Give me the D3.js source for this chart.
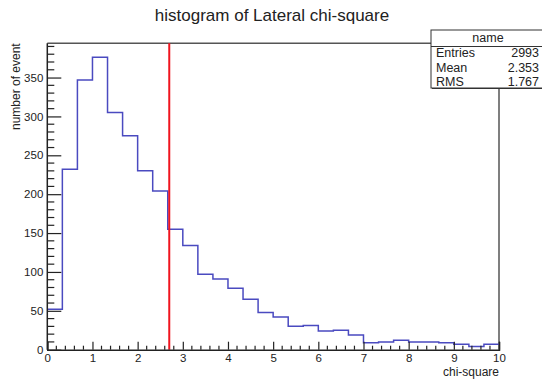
<!DOCTYPE html>
<html>
<head>
<meta charset="utf-8">
<script src="https://cdn.jsdelivr.net/npm/d3@7"></script>
<style>
  html, body { margin: 0; padding: 0; background: #fff; }
  svg { display: block; font-family: "Liberation Sans", Arial, Helvetica, sans-serif; }
</style>
</head>
<body>
<svg id="chart" width="542" height="380"></svg>
<script>
// Histogram of the lateral chi-square: 30 bins of width 1/3 over [0, 10]
const binLow = 0;
const binHigh = 10;
const binCounts = [52, 232, 347, 376, 305, 275, 230, 204, 155, 134,
                   97, 91, 79, 65, 48, 42, 30, 31, 24, 25,
                   19, 9, 10, 12, 10, 10, 9, 7, 4, 7];
const cutValue = [2.7];                 // vertical cut marker
const xTicks = [0, 1, 2, 3, 4, 5, 6, 7, 8, 9, 10];
const yTicks = [0, 50, 100, 150, 200, 250, 300, 350];
const statLabels = ["Entries", "Mean", "RMS"];
const statValues = ["2993", "2.353", "1.767"];
const statTitle = "name";
const titleText = "histogram of Lateral chi-square";
const xTitle = "chi-square";
const yTitle = "number of event";

const svg = d3.select("#chart");
const padL = 47.3, padR = 499, padT = 43.3, padB = 349.7;
const yMax = d3.max(binCounts) * 1.048;

const x = d3.scaleLinear().domain([binLow, binHigh]).range([padL, padR]);
const y = d3.scaleLinear().domain([0, yMax]).range([padB, padT]);

const nb = binCounts.length;
const binW = (binHigh - binLow) / nb;
const edges = d3.range(nb + 1).map(i => binLow + i * binW);

// frame (top and right edges)
svg.append("line").attr("x1", padL).attr("x2", padR).attr("y1", padT).attr("y2", padT)
  .attr("stroke", "#555").attr("stroke-width", 1.5);
svg.append("line").attr("x1", padR).attr("x2", padR).attr("y1", padT).attr("y2", padB)
  .attr("stroke", "#555").attr("stroke-width", 1.5);

// histogram outline as steps
const pts = binCounts.map((v, i) => [edges[i], v]);
pts.push([edges[nb], binCounts[nb - 1]]);
const stepLine = d3.line().x(d => x(d[0])).y(d => y(d[1])).curve(d3.curveStepAfter);
svg.append("path").datum(pts).attr("d", stepLine)
  .attr("fill", "none").attr("stroke", "#4a4ac0").attr("stroke-width", 1.5);

// cut line
svg.selectAll("line.cut").data(cutValue).enter().append("line").attr("class", "cut")
  .attr("x1", d => x(d)).attr("x2", d => x(d)).attr("y1", padT).attr("y2", padB)
  .attr("stroke", "#f0141e").attr("stroke-width", 2);

// x axis: ticks point into the frame
const xMinor = d3.range(0, 51).map(i => i * 0.2).filter(v => Math.abs(v - Math.round(v)) > 1e-6);
const xAxis = d3.axisBottom(x).tickValues(xTicks).tickSize(-8).tickPadding(4).tickFormat(d3.format("d"));
const gx = svg.append("g").attr("transform", `translate(0,${padB})`).call(xAxis);
gx.select(".domain").attr("stroke", "#222").attr("stroke-width", 1.5);
gx.selectAll(".tick line").attr("stroke", "#222").attr("stroke-width", 1.2);
gx.selectAll(".tick text").attr("font-size", 11.5).attr("fill", "#222")
  .attr("font-family", "Liberation Sans, Arial, sans-serif");
gx.selectAll("line.minor").data(xMinor).enter().append("line").attr("class", "minor")
  .attr("x1", d => x(d)).attr("x2", d => x(d)).attr("y1", 0).attr("y2", -4)
  .attr("stroke", "#222").attr("stroke-width", 1.2);

// y axis: ticks point into the frame
const yMinor = d3.range(0, 391, 10).filter(v => v % 50 !== 0);
const yAxis = d3.axisLeft(y).tickValues(yTicks).tickSize(-14).tickPadding(4).tickFormat(d3.format("d"));
const gy = svg.append("g").attr("transform", `translate(${padL},0)`).call(yAxis);
gy.select(".domain").remove();
gy.append("line").attr("x1", 0).attr("x2", 0).attr("y1", padT).attr("y2", padB)
  .attr("stroke", "#222").attr("stroke-width", 1.5);
gy.selectAll(".tick line").attr("stroke", "#222").attr("stroke-width", 1.2);
gy.selectAll(".tick text").attr("font-size", 11.5).attr("fill", "#222")
  .attr("font-family", "Liberation Sans, Arial, sans-serif");
gy.selectAll("line.minor").data(yMinor).enter().append("line").attr("class", "minor")
  .attr("x1", 0).attr("x2", 7).attr("y1", d => y(d)).attr("y2", d => y(d))
  .attr("stroke", "#222").attr("stroke-width", 1.2);

// titles
svg.append("text").attr("x", 272).attr("y", 21).attr("text-anchor", "middle")
  .attr("font-size", 17).attr("fill", "#222").text(titleText);
svg.append("text").attr("x", padR).attr("y", 375.5).attr("text-anchor", "end")
  .attr("font-size", 12).attr("fill", "#222").text(xTitle);
svg.append("text").attr("transform", `translate(20,${padT}) rotate(-90)`).attr("text-anchor", "end")
  .attr("font-size", 12).attr("fill", "#222").text(yTitle);

// statistics box
const bx = 431, by = 30, bw = 120, bh = 58, hdr = 16.5;
svg.append("rect").attr("x", bx + 1).attr("y", by + 1).attr("width", bw).attr("height", bh)
  .attr("fill", "#333");
svg.append("rect").attr("x", bx).attr("y", by).attr("width", bw).attr("height", bh)
  .attr("fill", "#fff").attr("stroke", "#333").attr("stroke-width", 1);
svg.append("line").attr("x1", bx).attr("x2", bx + bw).attr("y1", by + hdr).attr("y2", by + hdr)
  .attr("stroke", "#333").attr("stroke-width", 1);
svg.append("text").attr("x", 488).attr("y", by + 11.5).attr("text-anchor", "middle")
  .attr("font-size", 12.5).attr("fill", "#222").text(statTitle);
const rows = svg.selectAll("g.stat").data(statLabels).enter().append("g").attr("class", "stat")
  .attr("transform", (d, i) => `translate(0,${by + hdr + 10.8 + i * 14.5})`);
rows.append("text").attr("x", 436).attr("font-size", 12.5).attr("fill", "#222").text(d => d);
rows.append("text").attr("x", 539).attr("text-anchor", "end").attr("font-size", 12.5).attr("fill", "#222")
  .text((d, i) => statValues[i]);
</script>
</body>
</html>
